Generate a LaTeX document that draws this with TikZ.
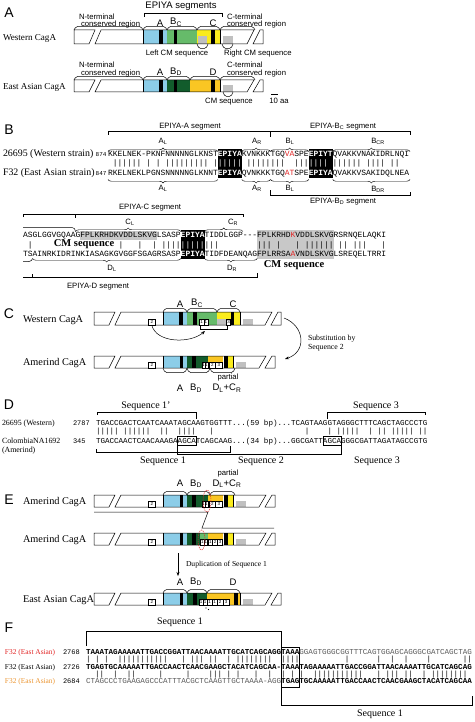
\documentclass[tikz,border=0pt]{standalone}
\usepackage{fontspec}
\setmainfont{Liberation Serif}
\newfontfamily\fSans{Liberation Sans}
\newfontfamily\fMono{Liberation Mono}
\usetikzlibrary{arrows.meta,decorations.pathreplacing}
\newcommand{\fsz}[1]{\fontsize{#1}{#1}\selectfont}
\definecolor{cblue}{RGB}{140,205,232}
\definecolor{cgreen}{RGB}{102,187,106}
\definecolor{cdkgreen}{RGB}{18,92,44}
\definecolor{cyellow}{RGB}{250,236,30}
\definecolor{cgold}{RGB}{250,198,35}
\definecolor{cgray}{RGB}{192,192,192}
\definecolor{hlgray}{RGB}{200,200,200}
\definecolor{sred}{RGB}{226,38,38}
\definecolor{sorange}{RGB}{236,150,50}
\definecolor{tgray}{RGB}{90,90,90}
\newcommand{\cgfill}[5]{\fill[#1] (#2,#4) rectangle (#3,#5);}
\newcommand{\cgout}[4]{%
  \draw[barl] (#1,#3) -- ({#1+21},#3) -- ({#1+15},#4) -- (#1,#4) -- cycle;
  \draw[barl] ({#1+27},#3) -- ({#2-9},#3) -- ({#2-16},#4) -- ({#1+21},#4) -- cycle;
  \draw[barl] ({#2-3},#3) -- (#2,#3) -- (#2,#4) -- ({#2-10},#4) -- cycle;}
\newcommand{\cgtop}[3]{\draw[thinl, rounded corners=1.6pt] (#1,#3) -- ({#1+2},{#3-3.5}) -- ({#2-2},{#3-3.5}) -- (#2,#3);}
\newcommand{\cgbot}[3]{\draw[thinl, rounded corners=1.6pt] (#1,#3) -- ({#1+2},{#3+4.5}) -- ({#2-2},{#3+4.5}) -- (#2,#3);}
\newcommand{\cgnum}[5]{\node[nbx, minimum width=#4pt] (#1) at (#2,#3) {#5};}
\newcommand{\amerbar}[3]{%
  \cgfill{cblue}{163}{187}{#1}{#2}
  \cgfill{black}{179.5}{182.5}{#1}{#2}
  \cgfill{cdkgreen}{187}{208}{#1}{#2}
  \cgfill{black}{192}{196}{#1}{#2}
  \cgfill{cgold}{208}{223}{#1}{{#1+6}}
  \cgfill{black}{224}{228}{#1}{#2}
  \cgfill{cyellow}{228}{233}{#1}{#2}
  \cgfill{cgray}{236}{246}{{#2-6.5}}{#2}
  \draw[barl] (163,#1) -- (163,#2) (233,#1) -- (233,#2);
  \cgout{94}{275}{#1}{#2}
  \cgnum{#3a}{148}{#2}{7.5}{2}
  \cgnum{#3b}{201.8}{#2}{3.1}{1}
  \cgnum{#3c}{204.9}{#2}{3.1}{1}
  \cgnum{#3d}{209}{#2}{6.5}{2}
  \cgnum{#3e}{215.5}{#2}{6.5}{3}}
\tikzset{
  every node/.style={inner sep=0pt, outer sep=0pt},
  plab/.style={font=\fSans\fsz{14}},
  sA/.style={font=\fSans\fsz{7.7}},
  sAl/.style={font=\fSans\fsz{7.7}, anchor=base west},
  sBig/.style={font=\fSans\fsz{9.5}},
  strainA/.style={font=\fsz{9.1}, anchor=base west},
  strainC/.style={font=\fsz{10.3}, anchor=base west},
  strainB/.style={font=\fsz{9.9}, anchor=base west},
  seqB/.style={font=\fMono\fsz{7.965}, anchor=base west},
  seqD/.style={font=\fMono\fsz{7.566}, anchor=base west},
  numS/.style={font=\fMono\fsz{7}, anchor=base west},
  numB/.style={font=\fMono\fsz{6}, anchor=base east},
  serifS/.style={font=\fsz{7.8}, anchor=base west},
  seqlab/.style={font=\fsz{10}},
  cmlab/.style={font=\bfseries\fsz{10.5}, anchor=base},
  thinl/.style={line width=0.5pt},
  barl/.style={line width=0.5pt},
  brc/.style={decorate, decoration={brace, amplitude=3.5pt}, line width=0.45pt},
  brcm/.style={decorate, decoration={brace, mirror, amplitude=3.5pt}, line width=0.45pt},
  arr/.style={-{Stealth[length=4pt,width=3pt]}, line width=0.5pt},
  nbx/.style={draw, line width=0.3pt, fill=white, font=\fSans\fsz{4.5}, minimum height=5.5pt, anchor=south west},
  redell/.style={draw=sred, dash pattern=on 1.2pt off 0.9pt, line width=0.5pt}
}
\begin{document}
\begin{tikzpicture}[x=1pt,y=-1pt]
\useasboundingbox (0,0) rectangle (474,722);
\fill[white] (0,0) rectangle (474,722);

% ================= Panel A =================
\node[plab] (pA) at (9,13) {A};
\node[sBig] (epiyaseg) at (181,6.5) {EPIYA segments};
\draw[thinl] (144,17) -- (144,13) -- (222,13) -- (222,17);
% Western
\node[strainA] (wA) at (3,41) {Western CagA};
\node[sAl] (wAn1) at (79,19.5) {N-terminal};
\node[sAl] (wAn2) at (81,27) {conserved region};
\node[sAl] (wAc1) at (227,19.5) {C-terminal};
\node[sAl] (wAc2) at (227,27) {conserved region};
\node[sBig] (wAA) at (160,23.5) {A};
\node[sBig] (wAB) at (176,22.5) {B\textsubscript{C}};
\node[sBig] (wAC) at (213,23.5) {C};
\cgfill{cblue}{143}{167}{30}{44}
\cgfill{black}{159}{162.5}{30}{44}
\cgfill{cgreen}{167}{197}{30}{44}
\cgfill{black}{173.5}{177}{30}{44}
\cgfill{cyellow}{197}{220}{30}{44}
\cgfill{cgray}{198}{207}{36}{44}
\cgfill{black}{211}{214.5}{30}{44}
\cgfill{cgray}{223}{233}{36}{44}
\draw[barl] (143,30) -- (143,44) (220,30) -- (220,44);
\cgout{74}{263}{30}{44}
\cgtop{74}{143}{30}\cgtop{143}{167}{30}\cgtop{167}{197}{30}\cgtop{197}{220}{30}\cgtop{220}{255}{30}
\cgbot{197}{208}{44}\cgbot{222}{233}{44}
\node[sA] (lcm) at (177,53.5) {Left CM sequence};
\node[sA, anchor=west] (rcm) at (224,53.5) {Right CM sequence};
% East Asian
\node[strainA] (eA) at (3,90) {East Asian CagA};
\node[sAl] (eAn1) at (79,68) {N-terminal};
\node[sAl] (eAn2) at (81,76) {conserved region};
\node[sAl] (eAc1) at (227,68) {C-terminal};
\node[sAl] (eAc2) at (227,76) {conserved region};
\node[sBig] (eAA) at (160,72.5) {A};
\node[sBig] (eAB) at (176,71.5) {B\textsubscript{D}};
\node[sBig] (eAD) at (213,72.5) {D};
\cgfill{cblue}{143}{167}{80}{92}
\cgfill{black}{159}{162.5}{80}{92}
\cgfill{cdkgreen}{167}{190}{80}{92}
\cgfill{black}{173.5}{177}{80}{92}
\cgfill{cgold}{190}{220}{80}{92}
\cgfill{black}{211}{214.5}{80}{92}
\cgfill{cgray}{223}{233}{85.5}{92}
\draw[barl] (143,80) -- (143,92) (220,80) -- (220,92);
\cgout{74}{263}{80}{92}
\cgtop{74}{143}{80}\cgtop{143}{167}{80}\cgtop{167}{190}{80}\cgtop{190}{220}{80}\cgtop{220}{255}{80}
\cgbot{223}{233}{92}
\node[sA] (ecm) at (229,101.5) {CM sequence};
\node[sA] (scl) at (279,100.5) {10 aa};
\draw[line width=0.6pt] (271,94.5) -- (278,94.5);

% ================= Panel B =================
\node[plab] (pB) at (9,130) {B};
\node[sA] (segA) at (190,126.5) {EPIYA-A segment};
\node[sA] (segBC) at (343,126.5) {EPIYA-B\textsubscript{C} segment};
\draw[thinl] (108,135) -- (108,131.5) -- (410,131.5) -- (410,135);
\draw[thinl] (270.5,131.5) -- (270.5,137);
\draw[brc] (108,151.5) -- (217.9,151.5);
\draw[brc] (241.8,151.5) -- (270.5,151.5);
\draw[brc] (270.5,151.5) -- (308.8,151.5);
\draw[brc] (332.7,151.5) -- (410,151.5);
\node[sA] (lAL1) at (163,141) {A\textsubscript{L}};
\node[sA] (lAR1) at (257,141) {A\textsubscript{R}};
\node[sA] (lBL1) at (290,141) {B\textsubscript{L}};
\node[sA] (lBC1) at (378,141) {B\textsubscript{CR}};
\fill[black] (217.9,149) rectangle (241.8,178);
\fill[black] (308.8,149) rectangle (332.7,178);
\node[strainB] (st1) at (3,157) {26695 (Western strain)};
\node[numB] (n874) at (106.5,157) {874};
\node[seqB] (b1) at (108,157) {KKELNEK-PKNFNNNNNGLKNST\textcolor{white}{\bfseries EPIYA}KVNKKKTGQ\textcolor{sred}{VA}SPE\textcolor{white}{\bfseries EPIYT}QVAKKVNAKIDRLNQI};
\node[seqB] (bb1) at (108,166) {~||||||~|~|~|||||||||~|\textcolor{white}{|||||}~||||||||~~|||\textcolor{white}{||||}~||||||~||||~||~~};
\node[strainB] (st2) at (3,175.5) {F32 (East Asian strain)};
\node[numB] (n847) at (106.5,175.5) {847};
\node[seqB] (b2) at (108,175.5) {RKELNEKLPGNSNNNNNGLKNNT\textcolor{white}{\bfseries EPIYA}QVNKKKTGQ\textcolor{sred}{AT}SPE\textcolor{white}{\bfseries EPIYA}QVAKKVSAKIDQLNEA};
\draw[brcm] (108,179.5) -- (217.9,179.5);
\draw[brcm] (241.8,179.5) -- (270.5,179.5);
\draw[brcm] (270.5,179.5) -- (308.8,179.5);
\draw[brcm] (332.7,179.5) -- (410,179.5);
\node[sA] (lAL2) at (163,188) {A\textsubscript{L}};
\node[sA] (lAR2) at (257,188) {A\textsubscript{R}};
\node[sA] (lBL2) at (290,188) {B\textsubscript{L}};
\node[sA] (lBD2) at (378,189) {B\textsubscript{DR}};
\draw[thinl] (270.5,190) -- (270.5,195) -- (410,195) -- (410,192);
\node[sA] (segBD) at (343,201.5) {EPIYA-B\textsubscript{D} segment};
% second block
\node[sA] (segC) at (150,208) {EPIYA-C segment};
\draw[thinl] (23,217) -- (23,214) -- (242.9,214) -- (242.9,217);
\draw[thinl] (75.6,214) -- (75.6,218);
\draw[thinl] (23,227.5) -- (72,227.5) .. controls (74,227.5) and (75.2,229) .. (75.6,231.5);
\draw[brc] (75.6,231.5) -- (180.7,231.5);
\draw[brc] (204.6,231.5) -- (242.9,231.5);
\node[sA] (lCL) at (130,222) {C\textsubscript{L}};
\node[sA] (lCR) at (233,222) {C\textsubscript{R}};
\fill[hlgray] (80.4,230.5) rectangle (156.8,239.5);
\fill[hlgray] (257.2,229.5) rectangle (333.7,259);
\fill[black] (180.7,229.5) rectangle (204.6,259);
\node[seqB] (b3) at (23,237.7) {ASGLGGVGQAAGFPLKRHDKVDDLSKVGLSASP\textcolor{white}{\bfseries EPIYA}TIDDLGGP-\kern0pt-\kern0pt-FPLKRHD\textcolor{sred}{K}VDDLSKVGRSRNQELAQKI};
\node[seqB] (bb3) at (23,247) {~|~~~~~~~~~~~~~~~~~~|~~~|~~|~||||\textcolor{white}{|||||}|||~~~~~~~~|||~|~~~|~||||||~||~|||~~~|};
\node[cmlab] (cm1) at (84,246.5) {CM sequence};
\node[seqB] (b4) at (23,256.7) {TSAINRKIDRINKIASAGKGVGGFSGAGRSASP\textcolor{white}{\bfseries EPIYA}TIDFDEANQAGFPLRRSA\textcolor{sred}{A}VNDLSKVGLSREQELTRRI};
\draw[thinl] (23,261.5) -- (29,261.5) .. controls (31,261.5) and (32.2,260) .. (32.6,258.5);
\draw[brcm] (32.6,258.5) -- (180.7,258.5);
\draw[brcm] (204.6,258.5) -- (257.2,258.5);
\node[cmlab] (cm2) at (294,267) {CM sequence};
\node[sA] (lDL) at (112,268) {D\textsubscript{L}};
\node[sA] (lDR) at (232,268) {D\textsubscript{R}};
\draw[thinl] (23,277) -- (257.2,277) -- (257.2,273);
\draw[thinl] (32.6,277) -- (32.6,274);
\node[sA] (segD) at (98,287) {EPIYA-D segment};

% ================= Panel C =================
\node[plab] (pC) at (9,314) {C};
\node[strainC] (wC) at (23,322.5) {Western CagA};
\node[sBig] (cA) at (180,304.5) {A};
\node[sBig] (cB) at (197,303.5) {B\textsubscript{C}};
\node[sBig] (cC) at (233,304.5) {C};
\cgfill{cblue}{163}{187}{312}{325}
\cgfill{black}{179}{182.5}{312}{325}
\cgfill{cgreen}{187}{217}{312}{325}
\cgfill{black}{193}{196.5}{312}{325}
\cgfill{cyellow}{217}{240}{312}{325}
\cgfill{cgray}{217}{227}{318.5}{325}
\cgfill{black}{230.5}{234}{312}{325}
\cgfill{cgray}{243}{253}{318.5}{325}
\draw[barl] (163,312) -- (163,325) (240,312) -- (240,325);
\cgout{94}{281}{312}{325}
\cgnum{wCa}{148}{325}{7.5}{2}
\cgnum{wCb}{199.5}{325}{4.2}{1}
\cgnum{wCc}{203.7}{325}{4.2}{1}
\cgnum{wCd}{226.5}{325}{4}{3}
\cgtop{163}{187}{312}\cgtop{187}{217}{312}\cgtop{217}{240}{312}
\draw[thinl] (200,325) -- (200,329.5) -- (227,329.5) -- (227,325);
\coordinate (tg1) at (205,331);
\draw[arr] (wCa.south) .. controls (156,343) and (190,344) .. (tg1);
\coordinate (cr1) at (284,318);
\coordinate (cr2) at (285,359);
\draw[arr] (cr1) .. controls (305,326) and (307,352) .. (cr2);
\node[serifS] (sub1) at (308,340.5) {Substitution by};
\node[serifS] (sub2) at (308,349.5) {Sequence 2};
\node[strainC] (amC) at (23,365.5) {Amerind CagA};
\amerbar{356}{368}{amC}
\cgbot{163}{187}{368}\cgbot{187}{210}{368}\cgbot{210}{235}{368}
\node[sA] (cpart) at (228,378) {partial};
\node[sBig] (cA2) at (180,388) {A};
\node[sBig] (cB2) at (196,388) {B\textsubscript{D}};
\node[sBig] (cD2) at (227,388) {D\textsubscript{L}+C\textsubscript{R}};

% ================= Panel D =================
\node[plab] (pD) at (9,405) {D};
\node[seqlab] (s1p) at (146,406.5) {Sequence 1'};
\node[seqlab] (s3a) at (376,406.5) {Sequence 3};
\draw[thinl] (97,415) -- (97,412) -- (195.9,412) -- (195.9,419);
\draw[thinl] (327,419) -- (327,412) -- (425,412) -- (425,415);
\node[font=\fsz{7.9}, anchor=base west] (dW) at (2,425) {26695 (Western)};
\node[numS] (n2787) at (73,425) {2787};
\node[seqD] (d1) at (96,425) {TGACCGACTCAATCAAATAGCAAGTGGTTT...(59 bp)...TCAGTAAGGTAGGGCTTTCAGCTAGCCCTG};
\node[seqD] (db) at (96,433.8) {|||||~||||||~~||~~||||~~~|~~~~~~~~~~~~~~~~~~~~|~~~~|~|||||~~|~||~|||||~||};
\node[font=\fsz{7.9}, anchor=base west] (dC) at (2,443) {ColombiaNA1692};
\node[font=\fsz{7.9}, anchor=base west] (dAm) at (2,452) {(Amerind)};
\node[numS] (n345) at (73,443) {345};
\node[seqD] (d2) at (96,443) {TGACCAACTCAACAAAGAAGCATCAGCAAG...(34 bp)...GGCGATTAGCAGGGCGATTAGATAGCCGTG};
\draw[thinl] (177.7,436.5) rectangle (195.9,445.5);
\draw[thinl] (323,436.5) rectangle (341.2,445.5);
\draw[thinl] (96,449) -- (96,452) -- (230,452) -- (230,446);
\draw[thinl] (177.7,446) -- (177.7,454.5) -- (341.2,454.5) -- (341.2,446);
\node[seqlab] (s1b) at (163,461) {Sequence 1};
\node[seqlab] (s2b) at (261,461) {Sequence 2};
\node[seqlab] (s3b) at (377,461) {Sequence 3};

% ================= Panel E =================
\node[sA] (epart) at (228,474) {partial};
\node[sBig] (eA1) at (180,483.5) {A};
\node[sBig] (eB1) at (196,483.5) {B\textsubscript{D}};
\node[sBig] (eD1) at (227,483.5) {D\textsubscript{L}+C\textsubscript{R}};
\node[plab] (pE) at (9,500) {E};
\node[strainC] (amE1) at (23,504) {Amerind CagA};
\amerbar{495}{507}{amEa}
\cgtop{163}{187}{495}\cgtop{187}{210}{495}\cgtop{210}{235}{495}
\draw[redell] (207,501) ellipse [x radius=4pt, y radius=11pt];
\draw[thinl] (94,512) -- (208,512) -- (202,528) -- (274,528);
\node[strainC] (amE2) at (23,542.5) {Amerind CagA};
\cgfill{cblue}{163}{187}{533}{545}
\cgfill{black}{179.5}{182.5}{533}{545}
\cgfill{cdkgreen}{187}{200}{533}{545}
\cgfill{black}{192}{196}{533}{545}
\cgfill{cgreen}{200}{208}{533}{545}
\cgfill{cgold}{208}{223}{533}{539}
\cgfill{black}{224}{228}{533}{545}
\cgfill{cyellow}{228}{233}{533}{545}
\cgfill{cgray}{236}{246}{538.5}{545}
\draw[barl] (163,533) -- (163,545) (233,533) -- (233,545);
\cgout{94}{275}{533}{545}
\cgnum{amEba}{148}{545}{7.5}{2}
\cgnum{amEbb}{200.5}{545}{3.5}{1}
\cgnum{amEbc}{204}{545}{3.5}{1}
\cgnum{amEbd}{208}{545}{4.5}{1}
\cgnum{amEbe}{212.5}{545}{5}{2}
\cgnum{amEbf}{217.5}{545}{5}{3}
\draw[redell] (201.5,540) ellipse [x radius=3.5pt, y radius=10pt];
\coordinate (dA) at (178,553);
\coordinate (dB) at (178,576);
\draw[arr] (dA) -- (dB);
\node[font=\fsz{7.6}, anchor=base west] (dup) at (186,566) {Duplication of Sequence 1};
\node[sBig] (eA3) at (180,582) {A};
\node[sBig] (eB3) at (196,581.5) {B\textsubscript{D}};
\node[sBig] (eD3) at (233,582) {D};
\node[strainC] (eaE) at (23,602.5) {East Asian CagA};
\cgfill{cblue}{163}{187}{593}{605}
\cgfill{black}{179.5}{182.5}{593}{605}
\cgfill{cdkgreen}{187}{207}{593}{605}
\cgfill{black}{193}{196.5}{593}{605}
\cgfill{cgold}{207}{240}{593}{605}
\cgfill{black}{234}{237.5}{593}{605}
\cgfill{cgray}{243}{253}{598.5}{605}
\draw[barl] (163,593) -- (163,605) (240,593) -- (240,605);
\cgout{94}{281}{593}{605}
\cgnum{eaa}{148}{605}{7.5}{2}
\cgnum{eab}{199}{605}{4}{1}
\cgnum{eac}{203}{605}{4}{1}
\cgnum{ead}{207}{605}{5}{1}
\cgnum{eae}{212}{605}{5}{1}
\cgnum{eaf}{217}{605}{6}{2}
\cgnum{eag}{223}{605}{6}{3}
\cgtop{163}{187}{593}\cgtop{187}{207}{593}\cgtop{207}{240}{593}
\fill (206,608) circle (0.6pt) (208.5,609.5) circle (0.6pt);

% ================= Panel F =================
\node[plab] (pF) at (9,628) {F};
\node[seqlab] (fs1) at (180,622) {Sequence 1};
\draw[thinl] (86,646) -- (86,631) -- (281.2,631) -- (281.2,647);
\draw[thinl] (281.2,647) rectangle (299.4,687);
\draw[thinl] (281.2,687) -- (281.2,705) -- (472,705) -- (472,696);
\node[seqlab] (fs2) at (380,714) {Sequence 1};
\node[font=\fsz{7.4}, anchor=base west, text=sred] (fl1) at (5,654) {F32 (East Asian)};
\node[font=\fsz{7.4}, anchor=base west] (fl2) at (5,669) {F32 (East Asian)};
\node[font=\fsz{7.4}, anchor=base west, text=sorange] (fl3) at (5,683.5) {F32 (East Asian)};
\node[numS] (n2768) at (63,654) {2768};
\node[numS] (n2726) at (63,669) {2726};
\node[numS] (n2684) at (63,683.5) {2684};
\node[seqD] (f1) at (86,654) {{\bfseries TAAATAGAAAAATTGACCGGATTAACAAAATTGCATCAGCAGGTAAA}\textcolor{tgray}{GGAGTGGGCGGTTTCAGTGGAGCAGGGCGATCAGCTAG}};
\node[seqD] (fb1) at (86,661.5) {|~|~|~~|||||||||||~~~|~|||~||~~|~||||||||~~||||~~~~~~~~~~|~~~~~~|~~|~~|~~~~|~~~~~~~||};
\node[seqD] (f2) at (86,669) {\bfseries TGAGTGCAAAAATTGACCAACTCAACGAAGCTACATCAGCAA-TAAATAGAAAAATTGACCGGATTAACAAAATTGCATCAGCAG};
\node[seqD] (fb2) at (86,676.2) {~~||~~|~~||~~~~~|~~~~~|~~~~|||~|~|~~~|~~|~~|~|~|~~|||||||||||~~~|~|||~||~~|~||||||||~};
\node[seqD] (f3) at (86,683.5) {\textcolor{tgray}{CTAGCCCTGAAGAGCCCATTTACGCTCAAGTTGCTAAAA-AGG}{\bfseries TGAGTGCAAAAATTGACCAACTCAACGAAGCTACATCAGCAA}};
\end{tikzpicture}
\end{document}
